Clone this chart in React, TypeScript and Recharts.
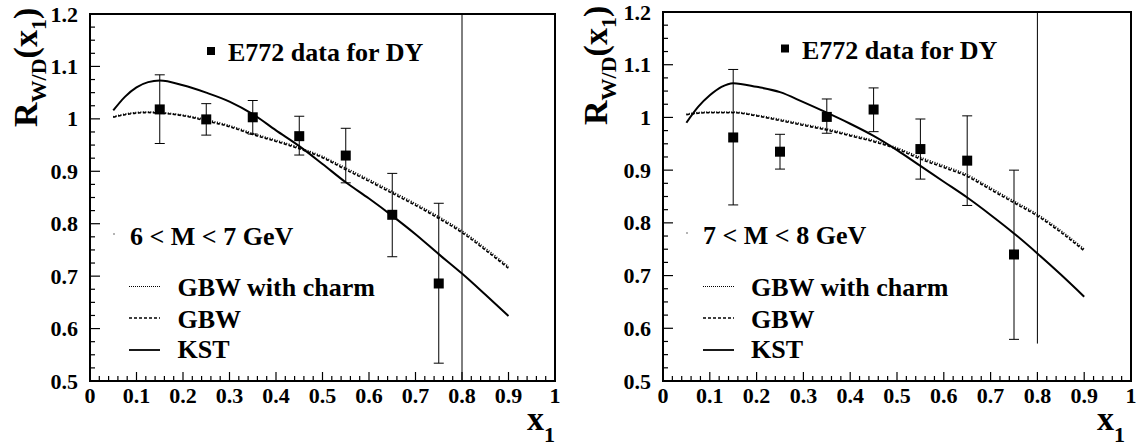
import React from 'react';
import { ComposedChart, Line, Scatter, ErrorBar, XAxis, YAxis, ReferenceLine, ReferenceArea } from 'recharts';

const FONT = 'Liberation Serif, DejaVu Serif, Noto Serif, serif';

// E772 DY data points
const pointX = [0.15, 0.25, 0.35, 0.45, 0.55, 0.65, 0.75];
const leftY = [1.018, 0.999, 1.003, 0.967, 0.93, 0.817, 0.686];
const leftLow = [0.953, 0.969, 0.971, 0.931, 0.878, 0.737, 0.534];
const leftHigh = [1.084, 1.029, 1.035, 1.005, 0.982, 0.896, 0.839];
const rightY = [0.962, 0.935, 1.001, 1.015, 0.94, 0.918, 0.74];
const rightLow = [0.834, 0.902, 0.97, 0.973, 0.883, 0.833, 0.579];
const rightHigh = [1.091, 0.968, 1.035, 1.056, 0.997, 1.003, 0.9];

// model curves
const curveX = [0.05, 0.075, 0.1, 0.125, 0.15, 0.2, 0.25, 0.3, 0.35, 0.4, 0.45, 0.5, 0.55, 0.6, 0.65, 0.7, 0.75, 0.8, 0.85, 0.9];
const leftKst = [1.016, 1.042, 1.06, 1.07, 1.073, 1.064, 1.05, 1.033, 1.009, 0.978, 0.948, 0.914, 0.879, 0.848, 0.815, 0.78, 0.742, 0.705, 0.665, 0.624];
const leftGbw = [1.003, 1.008, 1.011, 1.012, 1.011, 1.006, 0.996, 0.985, 0.97, 0.957, 0.943, 0.926, 0.903, 0.881, 0.858, 0.835, 0.81, 0.783, 0.75, 0.715];
const leftCharm = [1.004, 1.009, 1.012, 1.013, 1.012, 1.007, 0.998, 0.987, 0.972, 0.959, 0.945, 0.928, 0.906, 0.884, 0.861, 0.838, 0.813, 0.786, 0.753, 0.718];
const rightKst = [0.99, 1.02, 1.042, 1.058, 1.065, 1.058, 1.048, 1.029, 1.009, 0.988, 0.965, 0.938, 0.908, 0.878, 0.848, 0.815, 0.78, 0.742, 0.702, 0.66];
const rightGbw = [1.005, 1.008, 1.009, 1.009, 1.009, 1.003, 0.994, 0.985, 0.976, 0.965, 0.954, 0.94, 0.921, 0.905, 0.888, 0.863, 0.838, 0.813, 0.782, 0.747];
const rightCharm = [1.006, 1.009, 1.01, 1.01, 1.01, 1.004, 0.996, 0.987, 0.978, 0.967, 0.956, 0.942, 0.924, 0.908, 0.891, 0.866, 0.841, 0.816, 0.785, 0.75];

const xMajor = [0, 0.1, 0.2, 0.3, 0.4, 0.5, 0.6, 0.7, 0.8, 0.9, 1];
const yMajor = [0.5, 0.6, 0.7, 0.8, 0.9, 1, 1.1, 1.2];

const withMinor = (major: number[], n: number) => {
  const out: number[] = [];
  for (let i = 0; i < major.length - 1; i++) {
    for (let k = 0; k < n; k++) out.push(major[i] + ((major[i + 1] - major[i]) * k) / n);
  }
  out.push(major[major.length - 1]);
  return out;
};
const xTicks = withMinor(xMajor, 5);
const yTicks = withMinor(yMajor, 4);

const isMajor = (v: number) => Math.abs(v * 10 - Math.round(v * 10)) < 1e-6;
const fmt = (v: number) => String(Number(v.toFixed(1)));

const XTick = (props: any) => {
  const { x, y, payload } = props;
  const v = payload.value;
  const major = isMajor(v);
  return (
    <g>
      <line x1={x} x2={x} y1={y} y2={y - (major ? 9 : 5)} stroke="#000" strokeWidth={1.2} />
      {major && (
        <text x={x} y={y + 22} textAnchor="middle" fontFamily={FONT} fontWeight="bold" fontSize={22} fill="#000">
          {fmt(v)}
        </text>
      )}
    </g>
  );
};

const YTick = (props: any) => {
  const { x, y, payload } = props;
  const v = payload.value;
  const major = isMajor(v);
  return (
    <g>
      <line x1={x} x2={x + (major ? 10 : 5)} y1={y} y2={y} stroke="#000" strokeWidth={1.2} />
      {major && (
        <text x={x - 12} y={y + 7.5} textAnchor="end" fontFamily={FONT} fontWeight="bold" fontSize={22} fill="#000">
          {fmt(v)}
        </text>
      )}
    </g>
  );
};

const Square = (props: any) => <rect x={props.cx - 5} y={props.cy - 5} width={10} height={10} fill="#000" />;

const curve = (ys: number[]) => curveX.map((x, i) => ({ x, y: ys[i] }));
const points = (ys: number[], lo: number[], hi: number[]) =>
  pointX.map((x, i) => ({ x, y: ys[i], err: [ys[i] - lo[i], hi[i] - ys[i]] }));

type PanelProps = {
  left: number;
  top: number;
  right: number;
  yAxisWidth: number;
  kst: number[];
  gbw: number[];
  charm: number[];
  ys: number[];
  lo: number[];
  hi: number[];
  cutFrom: number;
  massLabel: string;
  lay: {
    titleX: number;
    titleY: number;
    sqX: number;
    sqY: number;
    e772X: number;
    e772Y: number;
    massX: number;
    massY: number;
    dotX: number;
    lineX1: number;
    lineX2: number;
    textX: number;
  };
};

const Panel = ({ left, top, right, yAxisWidth, kst, gbw, charm, ys, lo, hi, cutFrom, massLabel, lay }: PanelProps) => {
  const txt = { fontFamily: FONT, fontWeight: 'bold' as const, fill: '#000' };
  return (
    <div style={{ position: 'absolute', left, top: 0, width: 570, height: 447 }}>
      <ComposedChart width={570} height={447} margin={{ top, right, bottom: 0, left: 0 }}>
        <XAxis
          type="number"
          dataKey="x"
          domain={[0, 1]}
          ticks={xTicks}
          interval={0}
          height={66}
          tickSize={0}
          tickMargin={0}
          tickLine={false}
          axisLine={false}
          tick={<XTick />}
        />
        <YAxis
          type="number"
          dataKey="y"
          domain={[0.5, 1.2]}
          ticks={yTicks}
          interval={0}
          width={yAxisWidth}
          tickSize={0}
          tickMargin={0}
          tickLine={false}
          axisLine={false}
          tick={<YTick />}
        />
        <ReferenceArea x1={0} x2={1} y1={0.5} y2={1.2} fill="none" stroke="#000" strokeWidth={2} />
        <ReferenceLine segment={[{ x: 0.8, y: cutFrom }, { x: 0.8, y: 1.2 }]} stroke="#000" strokeWidth={1} />
        <Line data={curve(charm)} dataKey="y" type="monotone" stroke="#000" strokeWidth={1.8} strokeDasharray="1 1.5" dot={false} isAnimationActive={false} />
        <Line data={curve(gbw)} dataKey="y" type="monotone" stroke="#000" strokeWidth={1.6} strokeDasharray="3 2" dot={false} isAnimationActive={false} />
        <Line data={curve(kst)} dataKey="y" type="monotone" stroke="#000" strokeWidth={2} dot={false} isAnimationActive={false} />
        <Scatter data={points(ys, lo, hi)} dataKey="y" shape={<Square />} isAnimationActive={false}>
          <ErrorBar dataKey="err" direction="y" width={5} stroke="#000" strokeWidth={1} isAnimationActive={false} />
        </Scatter>
      </ComposedChart>
      <svg width={570} height={447} style={{ position: 'absolute', left: 0, top: 0, pointerEvents: 'none' }}>
        <g transform={`translate(${lay.titleX},${lay.titleY}) rotate(-90)`}>
          <text {...txt} fontSize={34}>
            R<tspan fontSize={22} dy={9}>W/D</tspan>
            <tspan fontSize={34} dy={-9}>(x</tspan>
            <tspan fontSize={22} dy={9}>1</tspan>
            <tspan fontSize={34} dy={-9}>)</tspan>
          </text>
        </g>
        <text {...txt} x={527} y={430} fontSize={34}>
          x<tspan fontSize={22} dy={12}>1</tspan>
        </text>
        <rect x={lay.sqX - 4} y={lay.sqY - 4} width={8} height={8} fill="#000" />
        <text {...txt} x={lay.e772X} y={lay.e772Y} fontSize={26}>E772 data for DY</text>
        <circle cx={lay.dotX} cy={lay.massY - 11} r={0.8} fill="#555" />
        <text {...txt} x={lay.massX} y={lay.massY} fontSize={26}>{massLabel}</text>
        <line x1={lay.lineX1} x2={lay.lineX2} y1={286.5} y2={286.5} stroke="#000" strokeWidth={1} strokeDasharray="1 1" />
        <text {...txt} x={lay.textX} y={296} fontSize={26}>GBW with charm</text>
        <line x1={lay.lineX1} x2={lay.lineX2} y1={318} y2={318} stroke="#000" strokeWidth={1.3} strokeDasharray="3 2" />
        <text {...txt} x={lay.textX} y={327.5} fontSize={26}>GBW</text>
        <line x1={lay.lineX1} x2={lay.lineX2} y1={350} y2={350} stroke="#000" strokeWidth={1.8} />
        <text {...txt} x={lay.textX} y={358} fontSize={26}>KST</text>
      </svg>
    </div>
  );
};

export default function App() {
  return (
    <div style={{ position: 'absolute', left: 0, top: 0, width: 1140, height: 447, background: '#fff' }}>
      <Panel
        left={0}
        top={14}
        right={15}
        yAxisWidth={90}
        kst={leftKst}
        gbw={leftGbw}
        charm={leftCharm}
        ys={leftY}
        lo={leftLow}
        hi={leftHigh}
        cutFrom={0.5}
        massLabel="6 < M < 7 GeV"
        lay={{ titleX: 37, titleY: 127, sqX: 211, sqY: 51, e772X: 228, e772Y: 60.5, massX: 130, massY: 245, dotX: 114, lineX1: 129, lineX2: 160, textX: 177.5 }}
      />
      <Panel
        left={570}
        top={12}
        right={9}
        yAxisWidth={93}
        kst={rightKst}
        gbw={rightGbw}
        charm={rightCharm}
        ys={rightY}
        lo={rightLow}
        hi={rightHigh}
        cutFrom={0.571}
        massLabel="7 < M < 8 GeV"
        lay={{ titleX: 37, titleY: 125, sqX: 215, sqY: 48.5, e772X: 232, e772Y: 59, massX: 133, massY: 244, dotX: 117, lineX1: 133, lineX2: 164, textX: 181 }}
      />
    </div>
  );
}
